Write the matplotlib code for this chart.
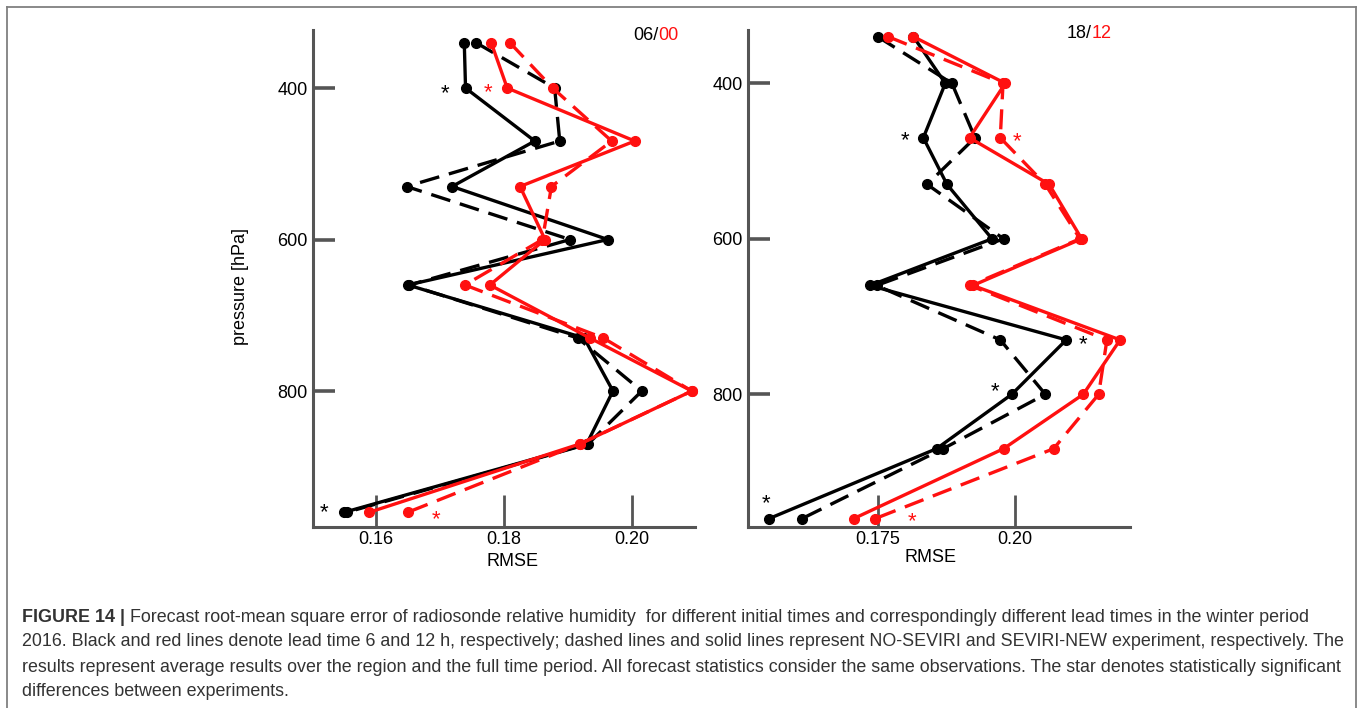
import matplotlib
matplotlib.use("Agg")
import matplotlib.pyplot as plt
from matplotlib.lines import Line2D

plt.rcParams["font.family"] = ["Liberation Sans", "DejaVu Sans"]

# pressure levels of the radiosonde profile [hPa]
levels = [340, 400, 470, 530, 600, 660, 730, 800, 870, 960]

# RMSE, initial time 06 (lead 6 h, black) / 00 (lead 12 h, red)
black_solid_0600 = [0.1738, 0.1740, 0.1848, 0.1719, 0.1962, 0.1650, 0.1925, 0.1970, 0.1929, 0.1551]
black_dashed_0600 = [0.1756, 0.1879, 0.1887, 0.1648, 0.1903, 0.1652, 0.1915, 0.2015, 0.1931, 0.1555]
red_solid_0600 = [0.1780, 0.1805, 0.2004, 0.1825, 0.1864, 0.1778, 0.1934, 0.2093, 0.1918, 0.1590]
red_dashed_0600 = [0.1809, 0.1876, 0.1968, 0.1874, 0.1860, 0.1739, 0.1955, 0.2093, 0.1918, 0.1650]

# RMSE, initial time 18 (lead 6 h, black) / 12 (lead 12 h, red)
black_solid_1812 = [0.1815, 0.1873, 0.1833, 0.1876, 0.1958, 0.1736, 0.2093, 0.1994, 0.1857, 0.1552]
black_dashed_1812 = [0.1750, 0.1885, 0.1927, 0.1840, 0.1979, 0.1748, 0.1973, 0.2055, 0.1869, 0.1612]
red_solid_1812 = [0.1815, 0.1982, 0.1917, 0.2062, 0.2121, 0.1923, 0.2191, 0.2124, 0.1979, 0.1706]
red_dashed_1812 = [0.1769, 0.1978, 0.1973, 0.2055, 0.2118, 0.1918, 0.2167, 0.2152, 0.2070, 0.1745]

ytick_vals = [400, 600, 800]
xticks_0600 = [0.16, 0.18, 0.20]
xtick_labels_0600 = ["0.16", "0.18", "0.20"]
xticks_1812 = [0.175, 0.20]
xtick_labels_1812 = ["0.175", "0.20"]

# significance stars: (series key, level, dx px, dy px)
stars_0600 = [("black_solid", 400, -21, 3), ("red_solid", 400, -19, 2),
              ("black_solid", 960, -20, -2), ("red_dashed", 960, 28, 5)]
stars_1812 = [("black_solid", 470, -18, 0), ("red_dashed", 470, 17, 1),
              ("black_solid", 730, 17, 2), ("black_solid", 800, -17, -5),
              ("black_solid", 960, -3, -18), ("red_dashed", 960, 37, 0)]

W, H = 1362, 708
BLACK = "#000000"
RED = "#ff1010"
AXCOL = "#555555"

fig = plt.figure(figsize=(W / 100, H / 100), dpi=100)


def px_axes(x0, x1, y0, y1):
    return fig.add_axes([x0 / W, 1 - y1 / H, (x1 - x0) / W, (y1 - y0) / H])


def draw_panel(ax, series, xlim, ylim, xticks, xlabels, stars):
    styles = [("black_dashed", BLACK, (0, (6, 3))),
              ("black_solid", BLACK, "-"),
              ("red_dashed", RED, (0, (6, 3))),
              ("red_solid", RED, "-")]
    for key, col, ls in styles:
        ax.plot(series[key], levels, color=col, ls=ls, lw=2.4, marker="o",
                ms=7, mec=col, mfc=col, clip_on=False, solid_capstyle="round",
                dash_capstyle="butt")
    for key, lev, dx, dy in stars:
        col = RED if key.startswith("red") else BLACK
        val = series[key][levels.index(lev)]
        ax.annotate("*", xy=(val, lev), xytext=(dx * 0.72, -dy * 0.72 - 6.0),
                    textcoords="offset points", ha="center", va="baseline",
                    fontsize=16, color=col)
    ax.set_xlim(*xlim)
    ax.set_ylim(*ylim)
    for s in ("top", "right"):
        ax.spines[s].set_visible(False)
    for s in ("left", "bottom"):
        ax.spines[s].set_color(AXCOL)
        ax.spines[s].set_linewidth(2.2)
    ax.set_xticks(xticks)
    ax.set_xticklabels(xlabels)
    ax.set_yticks(ytick_vals)
    ax.set_yticklabels([str(v) for v in ytick_vals])
    ax.tick_params(axis="x", direction="in", length=23, width=2.0,
                   color=AXCOL, pad=3, labelsize=13)
    ax.tick_params(axis="y", direction="in", length=16, width=2.6,
                   color=AXCOL, pad=4, labelsize=13)
    ax.patch.set_alpha(0)


ax1 = px_axes(313, 695, 30, 527)
draw_panel(ax1,
           {"black_solid": black_solid_0600, "black_dashed": black_dashed_0600,
            "red_solid": red_solid_0600, "red_dashed": red_dashed_0600},
           (0.1502, 0.2098), (979.5, 323.4), xticks_0600, xtick_labels_0600,
           stars_0600)

ax2 = px_axes(748, 1130, 30, 527)
draw_panel(ax2,
           {"black_solid": black_solid_1812, "black_dashed": black_dashed_1812,
            "red_solid": red_solid_1812, "red_dashed": red_dashed_1812},
           (0.1514, 0.2209), (970.7, 331.4), xticks_1812, xtick_labels_1812,
           stars_1812)


def ftext(x, y, s, **kw):
    return fig.text(x / W, 1 - y / H, s, **kw)


ftext(512, 561, "RMSE", ha="center", va="center", fontsize=13)
ftext(931, 558, "RMSE", ha="center", va="center", fontsize=13)
ftext(241, 287, "pressure [hPa]", ha="center", va="center", rotation=90,
      fontsize=13)

# panel tags: black/red parts of the initial-time label
renderer = fig.canvas.get_renderer()


def two_color(x, y, a, b, size=13):
    t1 = ftext(x, y, a, ha="left", va="center", fontsize=size, color=BLACK)
    w = t1.get_window_extent(renderer).width
    ftext(x + w, y, b, ha="left", va="center", fontsize=size, color=RED)


two_color(633, 35, "06/", "00")
two_color(1067, 33, "18/", "12")

# caption
CAP = "#333333"
cap_size = 12.9
cap_lines = [
    "Forecast root-mean square error of radiosonde relative humidity  for different initial times and correspondingly different lead times in the winter period",
    "2016. Black and red lines denote lead time 6 and 12 h, respectively; dashed lines and solid lines represent NO-SEVIRI and SEVIRI-NEW experiment, respectively. The",
    "results represent average results over the region and the full time period. All forecast statistics consider the same observations. The star denotes statistically significant",
    "differences between experiments.",
]
baselines = [621.5, 646.5, 671.5, 696]
tb = ftext(22, baselines[0], "FIGURE 14 | ", ha="left", va="baseline",
           fontsize=cap_size, fontweight="bold", color=CAP)
wb = tb.get_window_extent(renderer).width
ftext(22 + wb, baselines[0], cap_lines[0], ha="left", va="baseline",
      fontsize=cap_size, color=CAP)
for line, yb in zip(cap_lines[1:], baselines[1:]):
    ftext(22, yb, line, ha="left", va="baseline", fontsize=cap_size, color=CAP)

# frame around the figure panel
for xs, ys in (([7, 1356], [7, 7]), ([7, 7], [7, 708]), ([1356, 1356], [7, 708])):
    fig.add_artist(Line2D([x / W for x in xs], [1 - y / H for y in ys],
                          color="#808080", lw=1.3))

fig.savefig("out.png", dpi=100)
